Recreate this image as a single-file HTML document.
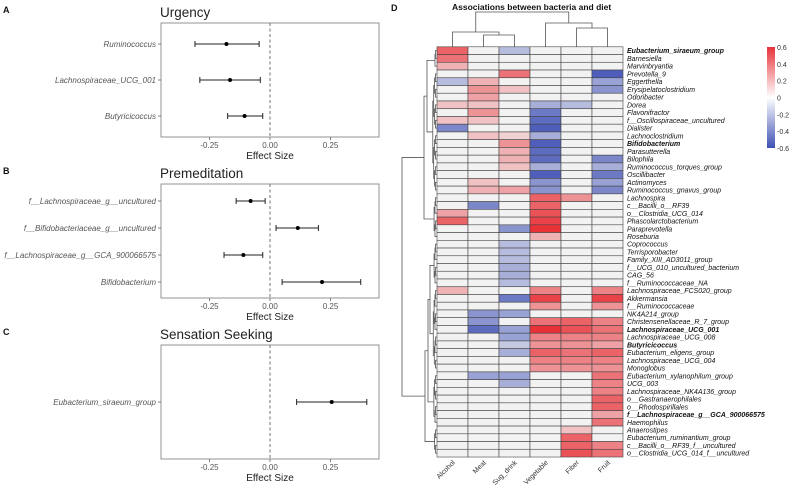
<!DOCTYPE html>
<html><head><meta charset="utf-8"><style>
html,body{margin:0;padding:0;background:#fff;width:790px;height:485px;overflow:hidden}
svg text{font-family:"Liberation Sans",Arial,sans-serif}
</style></head><body>
<svg id="fig" width="790" height="485" viewBox="0 0 790 485" xmlns="http://www.w3.org/2000/svg"></svg>
<script>
// ---------- Forest plot data ----------
const urgLabels=["Ruminococcus","Lachnospiraceae_UCG_001","Butyricicoccus"];
const urgEst=[-0.18,-0.165,-0.105];
const urgLo=[-0.31,-0.29,-0.175];
const urgHi=[-0.045,-0.04,-0.03];
const preLabels=["f__Lachnospiraceae_g__uncultured","f__Bifidobacteriaceae_g__uncultured","f__Lachnospiraceae_g__GCA_900066575","Bifidobacterium"];
const preEst=[-0.08,0.115,-0.11,0.215];
const preLo=[-0.14,0.025,-0.19,0.05];
const preHi=[-0.02,0.2,-0.03,0.375];
const senLabels=["Eubacterium_siraeum_group"];
const senEst=[0.255];
const senLo=[0.11];
const senHi=[0.4];
const xTicks=[-0.25,0,0.25];
const xTickLabels=["-0.25","0.00","0.25"];
// ---------- Heatmap data ----------
const hmCols=["Alcohol","Meat","Sug_drink","Vegetable","Fiber","Fruit"];
const hmRows=["Eubacterium_siraeum_group","Barnesiella","Marvinbryantia","Prevotella_9","Eggerthella","Erysipelatoclostridium","Odoribacter","Dorea","Flavonifractor","f__Oscillospiraceae_uncultured","Dialister","Lachnoclostridium","Bifidobacterium","Parasutterella","Bilophila","Ruminococcus_torques_group","Oscillibacter","Actinomyces","Ruminococcus_gnavus_group","Lachnospira","c__Bacilli_o__RF39","o__Clostridia_UCG_014","Phascolarctobacterium","Paraprevotella","Roseburia","Coprococcus","Terrisporobacter","Family_XIII_AD3011_group","f__UCG_010_uncultured_bacterium","CAG_56","f__Ruminococcaceae_NA","Lachnospiraceae_FCS020_group","Akkermansia","f__Ruminococcaceae","NK4A214_group","Christensenellaceae_R_7_group","Lachnospiraceae_UCG_001","Lachnospiraceae_UCG_008","Butyricicoccus","Eubacterium_eligens_group","Lachnospiraceae_UCG_004","Monoglobus","Eubacterium_xylanophilum_group","UCG_003","Lachnospiraceae_NK4A136_group","o__Gastranaerophilales","o__Rhodospirillales","f__Lachnospiraceae_g__GCA_900066575","Haemophilus","Anaerostipes","Eubacterium_ruminantium_group","c__Bacilli_o__RF39_f__uncultured","o__Clostridia_UCG_014_f__uncultured"];
const hmBold=[0,12,36,38,47];
const hmValues=[
[0.45,0,-0.2,0,0,0],[0.4,0,0,0,0,0],[0.2,0,0,0,0,0],[0,0,0.4,0,0,-0.55],[-0.2,0.2,0,0,0,-0.3],
[0,0.3,0.15,0,0,-0.35],[0,0.25,0,0,0,0],[0.15,0.15,0,-0.25,-0.2,0],[0,0.3,0,-0.45,0,0],[0.15,0.15,0,-0.5,0,0],
[-0.4,0,0,-0.55,0,0],[0,0.15,0.1,-0.25,0,0],[0,0,0.3,-0.55,0,0],[0,0,0.2,-0.5,0,0],[0,0,0.2,-0.5,0,-0.4],
[0,0,0.15,-0.25,0,-0.25],[0,0,0,-0.55,0,-0.45],[0,0.15,0,-0.35,0,-0.3],[0,0.2,0.25,-0.35,0,-0.4],[0,0,0,0.45,0.3,0],
[0,-0.4,0,0.45,0,0],[0.25,0,0,0.5,0,0],[0.45,0,0,0.55,0,0],[0,0,-0.35,0.6,0,0],[0,0,0,0.2,0,0],
[0,0,-0.2,0,0,0],[0,0,-0.2,0,0,0],[0,0,-0.2,0,0,0],[0,0,-0.25,0,0,0],[0,0,-0.25,0,0,0],
[0,0,-0.2,0,0,0],[0.2,0,0,0.35,0,0.35],[0,0,-0.45,0.55,0,0.55],[0,0,0,0.3,0,0.3],[0,-0.35,-0.3,0,0,0],
[0,-0.35,0,0.4,0.45,0.35],[0,-0.5,-0.3,0.6,0.5,0.4],[0,0,-0.3,0.35,0.35,0.35],[0,0,-0.15,0.3,0.3,0.25],[0,0,-0.25,0.45,0.4,0.45],
[0,0,0,0.35,0.35,0.35],[0,0,0,0.3,0.3,0.3],[0,-0.3,-0.3,0,0,0.4],[0,0,-0.25,0,0,0.35],[0,0,0,0,0,0.35],
[0,0,0,0,0,0.45],[0,0,0,0,0,0.45],[0,0,0,0,0,0.25],[0,0,0,0,0,0.4],[0,0,0,0,0.15,0],
[0,0,0,0,0.45,0],[0,0,0,0,0.45,0.35],[0,0,0,0,0.5,0.4]];
const cbTicks=[0.6,0.4,0.2,0,-0.2,-0.4,-0.6];
const cbTickLabels=["0.6","0.4","0.2","0","-0.2","-0.4","-0.6"];

const NS="http://www.w3.org/2000/svg";
const svg=document.getElementById('fig');
function mk(tag,attrs,parent,text){const e=document.createElementNS(NS,tag);for(const k in attrs)e.setAttribute(k,attrs[k]);if(text!==undefined)e.textContent=text;(parent||svg).appendChild(e);return e;}

// ---------- Forest panels ----------
function forest(letter,title,labels,est,lo,hi,top,bottom,rowYs,tickY,name){
  const g=mk('g',{});
  
  
  const xs=v=>270+v*242;
  const t0=mk('text',{x:3,y:top-10,'font-size':9,'font-weight':'bold',fill:'#111'},g,letter);
  
  
  const tt=mk('text',{x:160,y:top-6,'font-size':13.5,fill:'#222'},g,title);
  
  
  const box=mk('rect',{x:161,y:top,width:218,height:bottom-top,fill:'none',stroke:'#888','stroke-width':0.9},g);
  
  
  const zl=mk('line',{x1:xs(0),x2:xs(0),y1:top,y2:bottom,stroke:'#888','stroke-width':1.2,'stroke-dasharray':'3,2.5'},g);
  
  
  xTicks.forEach((v,i)=>{
    mk('line',{x1:xs(v),x2:xs(v),y1:bottom,y2:bottom+3,stroke:'#666','stroke-width':0.8},g);
    const tl=mk('text',{x:xs(v),y:tickY,'font-size':8,fill:'#555','text-anchor':'middle'},g,xTickLabels[i]);
    
    
  });
  const xt=mk('text',{x:xs(0),y:tickY+11,'font-size':10,fill:'#222','text-anchor':'middle'},g,'Effect Size');
  
  
  labels.forEach((lab,i)=>{
    const y=rowYs[i];
    mk('line',{x1:158,x2:161,y1:y,y2:y,stroke:'#666','stroke-width':0.8},g);
    const l=mk('text',{x:156,y:y+3,'font-size':8,'font-style':'italic',fill:'#555','text-anchor':'end'},g,lab);
    
    
    const ci=mk('g',{},g);
    
    
    mk('line',{x1:xs(lo[i]),x2:xs(hi[i]),y1:y,y2:y,stroke:'#222','stroke-width':1},ci);
    mk('line',{x1:xs(lo[i]),x2:xs(lo[i]),y1:y-3,y2:y+3,stroke:'#222','stroke-width':1},ci);
    mk('line',{x1:xs(hi[i]),x2:xs(hi[i]),y1:y-3,y2:y+3,stroke:'#222','stroke-width':1},ci);
    const p=mk('circle',{cx:xs(est[i]),cy:y,r:2,fill:'#000'},ci);
    
    
  });
}
forest('A','Urgency',urgLabels,urgEst,urgLo,urgHi,23,137,[44,80,116],148,'urgency');
forest('B','Premeditation',preLabels,preEst,preLo,preHi,184,298,[201,228,255,282],309,'premeditation');
forest('C','Sensation Seeking',senLabels,senEst,senLo,senHi,345,459,[402],470,'sensation-seeking');

// ---------- Heatmap ----------
const HX=437,HY=46.8,CW=31,RH=7.74;
const hg=mk('g',{});


const dl=mk('text',{x:391,y:11,'font-size':9,'font-weight':'bold',fill:'#111'},svg,'D');


const ht=mk('text',{x:452,y:10,'font-size':8.5,'font-weight':'bold',fill:'#111'},svg,'Associations between bacteria and diet');


function col(v){
  const t=Math.min(1,Math.abs(v)/0.6);
  const base=[242,242,242];
  const end=v>=0?[232,50,56]:[63,81,181];
  const c=base.map((b,i)=>Math.round(b+(end[i]-b)*t));
  return 'rgb('+c.join(',')+')';
}
hmValues.forEach((row,r)=>{
  row.forEach((v,c)=>{
    const cell=mk('rect',{x:HX+c*CW,y:HY+r*RH,width:CW,height:RH,fill:col(v),stroke:'#444','stroke-width':0.6},hg);
    
    
  });
  const l=mk('text',{x:HX+6*CW+4,y:HY+r*RH+RH-1.3,'font-size':7,'font-style':'italic','font-weight':hmBold.includes(r)?'bold':'normal',fill:'#111'},hg,hmRows[r]);
  
  
});
const HB=HY+hmRows.length*RH;
hmCols.forEach((c,i)=>{
  const cx=HX+i*CW+CW/2;
  const t=mk('text',{x:cx+3,y:HB+6,'font-size':7,fill:'#333','text-anchor':'end',transform:'rotate(-45 '+(cx+3)+' '+(HB+6)+')'},hg,c);
  
  
});
// column dendrogram
const cd=mk('g',{stroke:'#555','stroke-width':0.8,fill:'none'});


function cx(i){return HX+i*CW+CW/2;}
function U(x1,y1,x2,y2,ym,p){mk('path',{d:'M'+x1+','+y1+'V'+ym+'H'+x2+'V'+y2},p);}
const yL=HY;
U(cx(1),yL,cx(2),yL,35,cd);
const m12=(cx(1)+cx(2))/2;
U(cx(0),yL,m12,35,32,cd);
const mA=(cx(0)+m12)/2;
U(cx(4),yL,cx(5),yL,28,cd);
const m45=(cx(4)+cx(5))/2;
U(cx(3),yL,m45,28,23,cd);
const mB=(cx(3)+m45)/2;
U(mA,32,mB,23,12,cd);
// row dendrogram
const rd=mk('g',{stroke:'#555','stroke-width':0.8,fill:'none'});


function bal(a,b){ if(a===b) return a; const m=Math.floor((a+b)/2); const n=b-a+1; return [bal(a,m),bal(m+1,b),Math.min(6,0.9*Math.log2(n)+0.6)]; }
const tree=[[[bal(0,2),bal(3,18),10],bal(19,24),13],[[ [bal(25,30),bal(31,41),7], bal(42,48),9],bal(49,52),12],35];
function draw(n){
  if(typeof n==='number') return {y:HY+n*RH+RH/2,x:HX};
  const a=draw(n[0]),b=draw(n[1]);const x=HX-n[2];
  mk('path',{d:'M'+a.x+','+a.y+'H'+x+'V'+b.y+'H'+b.x},rd);
  return {y:(a.y+b.y)/2,x:x};
}
draw(tree);
// colorbar
const defs=mk('defs',{});
const lg=mk('linearGradient',{id:'cbg',x1:0,y1:0,x2:0,y2:1},defs);
mk('stop',{offset:'0%','stop-color':col(0.6)},lg);
mk('stop',{offset:'50%','stop-color':'#ffffff'},lg);
mk('stop',{offset:'100%','stop-color':col(-0.6)},lg);
const cb=mk('rect',{x:767,y:47,width:8,height:101,fill:'url(#cbg)'});


cbTicks.forEach((v,i)=>{
  const y=47+(0.6-v)/1.2*101;
  const t=mk('text',{x:777,y:y+3,'font-size':7,fill:'#333'},svg,cbTickLabels[i]);
  
  
});
</script>
</body></html>
